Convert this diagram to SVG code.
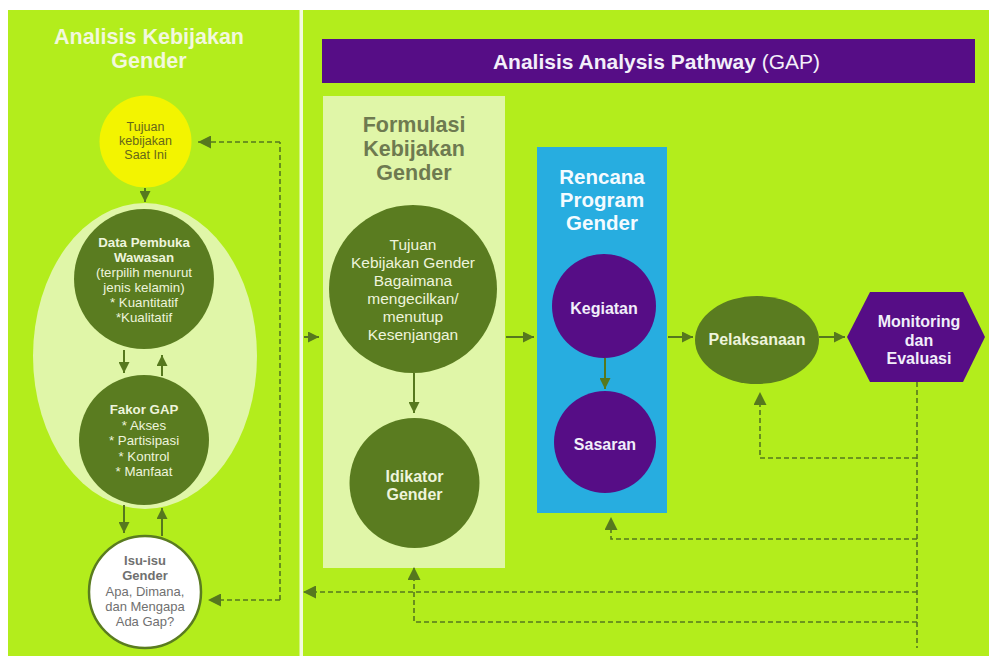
<svg xmlns="http://www.w3.org/2000/svg" width="989" height="659" viewBox="0 0 989 659">
  <defs>
    <marker id="head" viewBox="0 0 10 10" refX="10" refY="5" markerWidth="11" markerHeight="11" markerUnits="userSpaceOnUse" orient="auto">
      <path d="M0,0 L10,5 L0,10 Z" fill="#56781e"/>
    </marker>
    <marker id="headL" viewBox="0 0 10 10" refX="10" refY="5" markerWidth="13" markerHeight="13" markerUnits="userSpaceOnUse" orient="auto">
      <path d="M0,0 L10,5 L0,10 Z" fill="#56781e"/>
    </marker>
  </defs>
  <style>
    text { font-family: "Liberation Sans", Arial, sans-serif; text-anchor: middle; }
    .solid { stroke: #56781e; stroke-width: 2; fill: none; marker-end: url(#head); }
    .dash { stroke: #56781e; stroke-width: 1.6; fill: none; stroke-dasharray: 5 3; }
    .dashA { stroke: #56781e; stroke-width: 1.6; fill: none; stroke-dasharray: 5 3; marker-end: url(#headL); }
    .dark { fill: #5a7c20; }
    .purple { fill: #560d86; }
    .lt { fill: #eef4dc; font-size: 13.3px; }
    .ltb { fill: #eef4dc; font-size: 13.3px; font-weight: bold; }
    .big { fill: #eef4dc; font-size: 15.5px; }
    .node { fill: #f1eefa; font-size: 16px; font-weight: bold; }
    .nodeG { fill: #eef4dc; font-size: 16px; font-weight: bold; }
    .head1 { fill: #f2f8dc; font-size: 21.5px; font-weight: bold; }
    .headF { fill: #6e7a50; font-size: 21.5px; font-weight: bold; }
    .headR { fill: #f4fbff; font-size: 20.5px; font-weight: bold; }
    .isu { fill: #707070; font-size: 13px; }
  </style>

  <!-- backdrop -->
  <rect x="0" y="0" width="989" height="659" fill="#ffffff"/>
  <rect x="8" y="10" width="981" height="646" fill="#b3ed1c"/>
  <rect x="299.5" y="10" width="3.5" height="646" fill="#f3fadf"/>

  <!-- left column title -->
  <g id="title-left">
    <text class="head1" x="149" y="44">Analisis Kebijakan</text>
    <text class="head1" x="149" y="68">Gender</text>
  </g>

  <!-- banner -->
  <g id="banner">
    <rect x="322" y="39" width="653" height="44" fill="#560d86"/>
    <text x="656.5" y="68.5" font-size="21" fill="#f3effa"><tspan font-weight="bold">Analisis Analysis Pathway</tspan> (GAP)</text>
  </g>

  <!-- panels -->
  <g id="panel-formulasi">
    <rect x="323" y="96" width="182" height="472" fill="#e0f6a8"/>
    <text class="headF" x="414" y="132">Formulasi</text>
    <text class="headF" x="414" y="156">Kebijakan</text>
    <text class="headF" x="414" y="180">Gender</text>
  </g>
  <g id="panel-rencana">
    <rect x="537" y="147" width="130" height="366" fill="#27ade0"/>
    <text class="headR" x="602" y="184">Rencana</text>
    <text class="headR" x="602" y="207">Program</text>
    <text class="headR" x="602" y="230">Gender</text>
  </g>

  <!-- left column nodes -->
  <g id="node-tujuan-saat-ini">
    <circle cx="145.5" cy="141.5" r="46" fill="#f3f400"/>
    <text x="145.5" y="131" font-size="12.5" fill="#66671a">Tujuan</text>
    <text x="145.5" y="145" font-size="12.5" fill="#66671a">kebijakan</text>
    <text x="145.5" y="159" font-size="12.5" fill="#66671a">Saat Ini</text>
  </g>
  <g id="group-analisis">
    <ellipse cx="145" cy="356" rx="112" ry="153" fill="#e0f6a8"/>
  </g>
  <g id="node-data">
    <circle class="dark" cx="144" cy="279" r="70"/>
    <text class="ltb" x="144" y="246.5">Data Pembuka</text>
    <text class="ltb" x="144" y="261.5">Wawasan</text>
    <text class="lt" x="144" y="276.5">(terpilih menurut</text>
    <text class="lt" x="144" y="291.5">jenis kelamin)</text>
    <text class="lt" x="144" y="306.5">* Kuantitatif</text>
    <text class="lt" x="144" y="321.5">*Kualitatif</text>
  </g>
  <g id="node-fakor">
    <circle class="dark" cx="144" cy="440" r="65"/>
    <text class="ltb" x="144" y="414">Fakor GAP</text>
    <text class="lt" x="144" y="429.5">* Akses</text>
    <text class="lt" x="144" y="445">* Partisipasi</text>
    <text class="lt" x="144" y="460.5">* Kontrol</text>
    <text class="lt" x="144" y="476">* Manfaat</text>
  </g>
  <g id="node-isu">
    <circle cx="145" cy="592" r="56" fill="#ffffff" stroke="#5a7c20" stroke-width="2.5"/>
    <text class="isu" x="145" y="565" font-weight="bold" fill="#666666">Isu-isu</text>
    <text class="isu" x="145" y="580" font-weight="bold" fill="#666666">Gender</text>
    <text class="isu" x="145" y="595.5">Apa, Dimana,</text>
    <text class="isu" x="145" y="610.5">dan Mengapa</text>
    <text class="isu" x="145" y="625.5">Ada Gap?</text>
  </g>

  <!-- middle nodes -->
  <g id="node-tujuan-gender">
    <circle class="dark" cx="413" cy="289" r="84"/>
    <text class="big" x="413" y="250">Tujuan</text>
    <text class="big" x="413" y="268">Kebijakan Gender</text>
    <text class="big" x="413" y="286">Bagaimana</text>
    <text class="big" x="413" y="304">mengecilkan/</text>
    <text class="big" x="413" y="322">menutup</text>
    <text class="big" x="413" y="340">Kesenjangan</text>
  </g>
  <g id="node-idikator">
    <circle class="dark" cx="414.5" cy="483" r="65"/>
    <text class="nodeG" x="414.5" y="482" font-size="15.5">Idikator</text>
    <text class="nodeG" x="414.5" y="499.5" font-size="15.5">Gender</text>
  </g>
  <g id="node-kegiatan">
    <circle class="purple" cx="604" cy="306" r="52"/>
    <text class="node" x="604" y="313.5" font-size="16.3">Kegiatan</text>
  </g>
  <g id="node-sasaran">
    <circle class="purple" cx="605" cy="442" r="51"/>
    <text class="node" x="605" y="450" font-size="15.5">Sasaran</text>
  </g>
  <g id="node-pelaksanaan">
    <ellipse class="dark" cx="757" cy="340" rx="62" ry="44"/>
    <text class="nodeG" x="757" y="345">Pelaksanaan</text>
  </g>
  <g id="node-monev">
    <polygon class="purple" points="847,337 870,292 963,292 985,337 963,382 870,382"/>
    <text class="node" x="919" y="327" font-size="16.5">Monitoring</text>
    <text class="node" x="919" y="345.5" font-size="16.5">dan</text>
    <text class="node" x="919" y="364" font-size="16.5">Evaluasi</text>
  </g>

  <!-- connectors -->
  <g id="connectors">
    <path class="solid" d="M145,188 V202"/>
    <path class="solid" d="M124,350 V373"/>
    <path class="solid" d="M162,376 V355"/>
    <path class="solid" d="M124,505 V533"/>
    <path class="solid" d="M162,536 V508"/>
    <path class="solid" d="M304,337 H319"/>
    <path class="solid" d="M414,373 V413"/>
    <path class="solid" d="M506,337 H534"/>
    <path class="solid" d="M605,358 V389"/>
    <path class="solid" d="M668,337 H693"/>
    <path class="solid" d="M819,337 H845"/>

    <!-- left feedback loop -->
    <path class="dash" d="M280,600 V142"/>
    <path class="dashA" d="M280,142 H198"/>
    <path class="dashA" d="M280,600 H208"/>

    <!-- evaluation feedback lines -->
    <path class="dash" d="M917,382 V648"/>
    <path class="dashA" d="M917,458 H760 V392"/>
    <path class="dashA" d="M917,539 H611 V517"/>
    <path class="dashA" d="M917,592 H303"/>
    <path class="dashA" d="M917,622 H414 V567"/>
  </g>
</svg>
